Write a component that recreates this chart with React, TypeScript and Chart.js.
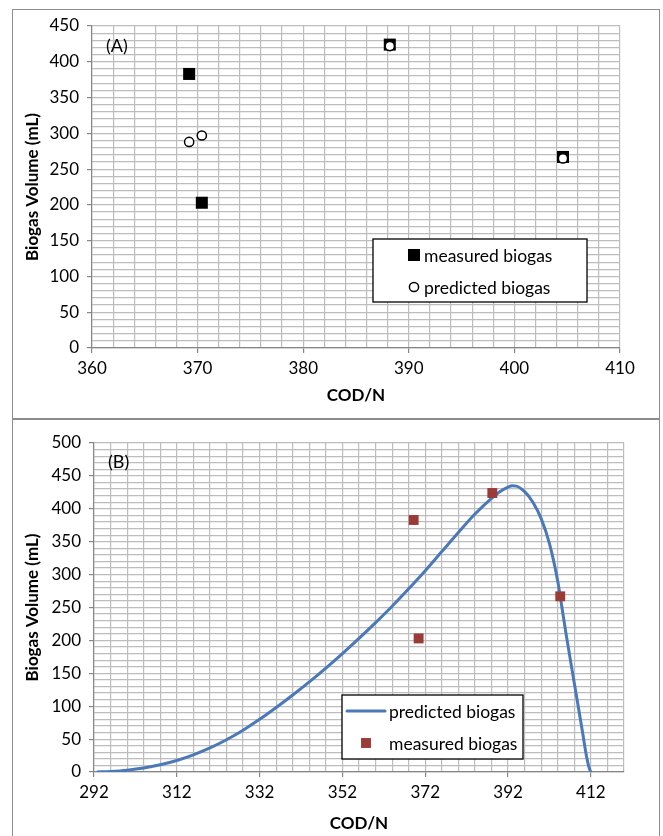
import React, { useEffect, useRef } from 'react';
import { Chart, registerables } from 'chart.js';

Chart.register(...registerables);

// ---------- DATA ----------
const codN = [369.2, 370.4, 388.2, 404.6];
const measuredBiogas = [383, 203, 424, 267];
const predictedBiogas = [288, 297, 422, 265];

const curveCodN = [292.7, 296, 300, 304, 308, 312, 316, 320, 324, 328, 332, 336, 340, 344, 348, 352, 356, 360, 364, 368, 372, 376, 380, 384, 388, 390, 392, 393, 394, 396, 398, 400, 402, 404, 404.6, 406, 408, 410, 411, 411.6, 412];
const curveBiogas = [0, 0.9, 2.8, 6, 11, 17.5, 26, 36.5, 49, 63.5, 80, 98, 117, 137, 158, 180, 203, 227, 252, 278.5, 306, 335, 364, 392, 416, 426, 433, 435, 434.5, 426, 410, 385, 347, 290, 267, 210, 135, 60, 22, 6, 0];

const xTicksA = [360, 370, 380, 390, 400, 410];
const yTicksA = [0, 50, 100, 150, 200, 250, 300, 350, 400, 450];
const xTicksB = [292, 312, 332, 352, 372, 392, 412];
const yTicksB = [0, 50, 100, 150, 200, 250, 300, 350, 400, 450, 500];

const xGridStepA = 2;
const xGridStepB = 4;
const yGridStep = 10;

// ---------- STYLE ----------
const FONT = 'Lato, "Open Sans", sans-serif';
const GRID = '#bdbdbd';
const AXIS = '#868686';
const BLUE = '#4a78b8';
const RED = '#9a3b37';

const boxLegendPlugin = {
  id: 'boxLegend',
  afterDraw(chart: any, _args: any, opts: any) {
    if (!opts || !opts.rows) return;
    const { ctx, chartArea } = chart;
    const x0 = chartArea.left + opts.left;
    const y0 = chartArea.top + opts.top;
    ctx.save();
    ctx.fillStyle = '#ffffff';
    ctx.fillRect(x0, y0, opts.width, opts.height);
    ctx.strokeStyle = '#000000';
    ctx.lineWidth = 1.3;
    ctx.strokeRect(x0, y0, opts.width, opts.height);
    ctx.font = `${opts.fontSize}px ${FONT}`;
    ctx.textBaseline = 'middle';
    ctx.textAlign = 'left';
    opts.rows.forEach((row: any) => {
      const ds = chart.data.datasets.find((d: any) => d.label === row.label);
      if (!ds) return;
      const cy = y0 + row.dy;
      if (ds.showLine) {
        ctx.beginPath();
        ctx.strokeStyle = ds.borderColor;
        ctx.lineWidth = ds.borderWidth;
        ctx.lineCap = 'round';
        ctx.moveTo(x0 + opts.lineX1, cy);
        ctx.lineTo(x0 + opts.lineX2, cy);
        ctx.stroke();
      } else {
        const cx = x0 + opts.symbolX;
        const r = ds.pointRadius;
        if (ds.pointStyle === 'rect') {
          const s = Math.SQRT1_2 * r;
          ctx.fillStyle = ds.pointBackgroundColor;
          ctx.fillRect(cx - s, cy - s, 2 * s, 2 * s);
        } else {
          ctx.beginPath();
          ctx.arc(cx, cy, r, 0, Math.PI * 2);
          ctx.fillStyle = ds.pointBackgroundColor;
          ctx.fill();
          ctx.lineWidth = ds.pointBorderWidth;
          ctx.strokeStyle = ds.pointBorderColor;
          ctx.stroke();
        }
      }
      ctx.fillStyle = '#000000';
      ctx.fillText(ds.label, x0 + opts.textX, cy + 1);
    });
    ctx.restore();
  },
};

const panelLabelPlugin = {
  id: 'panelLabel',
  afterDraw(chart: any, _args: any, opts: any) {
    if (!opts || !opts.text) return;
    const { ctx, chartArea } = chart;
    ctx.save();
    ctx.font = `${opts.fontSize}px ${FONT}`;
    ctx.fillStyle = '#000';
    ctx.textBaseline = 'middle';
    ctx.textAlign = 'left';
    ctx.fillText(opts.text, chartArea.left + opts.dx, chartArea.top + opts.dy);
    ctx.restore();
  },
};

function axis(min: number, max: number, step: number, labels: number[], title: string, isY: boolean, size: number, titlePad: any, tickPad: number) {
  return {
    type: 'linear',
    min,
    max,
    ticks: {
      stepSize: step,
      autoSkip: false,
      maxRotation: 0,
      minRotation: 0,
      padding: tickPad,
      color: '#000',
      font: { family: FONT, size: 17 },
      callback: (v: any) => (labels.includes(Number(v)) ? String(v) : ''),
    },
    grid: {
      color: GRID,
      lineWidth: 1.2,
      tickLength: 5,
      tickWidth: 1.2,
      tickColor: (c: any) => (c.tick && labels.includes(c.tick.value) ? AXIS : 'rgba(0,0,0,0)'),
    },
    border: { display: true, color: AXIS, width: 1.2 },
    title: {
      display: true,
      text: title,
      color: '#000',
      font: { family: FONT, size: 17, weight: 'bold' },
      padding: titlePad,
    },
    afterFit: (s: any) => {
      if (isY) s.width = size;
      else s.height = size;
    },
  };
}

function ChartCanvas({ config, width, height, style }: any) {
  const ref = useRef<HTMLCanvasElement | null>(null);
  useEffect(() => {
    if (!ref.current) return;
    const chart = new Chart(ref.current, config());
    return () => chart.destroy();
  }, []);
  return <canvas ref={ref} width={width} height={height} style={{ position: 'absolute', width, height, ...style }} />;
}

const configA = () => ({
  type: 'scatter',
  data: {
    datasets: [
      {
        label: 'measured biogas',
        data: codN.map((x, i) => ({ x, y: measuredBiogas[i] })),
        pointStyle: 'rect',
        pointRadius: 8.5,
        pointBackgroundColor: '#000000',
        pointBorderColor: '#000000',
        pointBorderWidth: 0,
        showLine: false,
        order: 1,
      },
      {
        label: 'predicted biogas',
        data: codN.map((x, i) => ({ x, y: predictedBiogas[i] })),
        pointStyle: 'circle',
        pointRadius: 4.6,
        pointBackgroundColor: '#ffffff',
        pointBorderColor: '#000000',
        pointBorderWidth: 1.5,
        showLine: false,
        order: 0,
      },
    ],
  },
  options: {
    responsive: false,
    animation: false,
    layout: { padding: { left: 0, top: 26, right: 43, bottom: 0 } },
    scales: {
      x: axis(360, 410, xGridStepA, xTicksA, 'COD/N', false, 71, { top: 0, bottom: 13 }, 5),
      y: axis(0, 450, yGridStep, yTicksA, 'Biogas Volume (mL)', true, 92, { top: 22, bottom: 0 }, 8),
    },
    plugins: {
      legend: { display: false },
      tooltip: { enabled: false },
      boxLegend: {
        left: 281, top: 213, width: 214, height: 63, fontSize: 17.5,
        symbolX: 41, textX: 51, lineX1: 5, lineX2: 43,
        rows: [{ label: 'measured biogas', dy: 16 }, { label: 'predicted biogas', dy: 48 }],
      },
      panelLabel: { text: '(A)', dx: 14, dy: 20, fontSize: 18 },
    },
  },
  plugins: [boxLegendPlugin, panelLabelPlugin],
});

const configB = () => ({
  type: 'scatter',
  data: {
    datasets: [
      {
        label: 'predicted biogas',
        data: curveCodN.map((x, i) => ({ x, y: curveBiogas[i] })),
        showLine: true,
        borderColor: BLUE,
        borderWidth: 3,
        pointRadius: 0,
        cubicInterpolationMode: 'monotone',
        tension: 0.4,
        fill: false,
        order: 1,
      },
      {
        label: 'measured biogas',
        data: codN.map((x, i) => ({ x, y: measuredBiogas[i] })),
        pointStyle: 'rect',
        pointRadius: 7,
        pointBackgroundColor: RED,
        pointBorderColor: RED,
        pointBorderWidth: 0,
        showLine: false,
        order: 0,
      },
    ],
  },
  options: {
    responsive: false,
    animation: false,
    layout: { padding: { left: 0, top: 23, right: 39, bottom: 0 } },
    scales: {
      x: axis(292, 420, xGridStepB, xTicksB, 'COD/N', false, 64, { top: 0, bottom: 2 }, 5),
      y: axis(0, 500, yGridStep, yTicksB, 'Biogas Volume (mL)', true, 94, { top: 22, bottom: 0 }, 8),
    },
    plugins: {
      legend: { display: false },
      tooltip: { enabled: false },
      boxLegend: {
        left: 248, top: 252, width: 181, height: 64, fontSize: 17.5,
        symbolX: 24, textX: 47, lineX1: 5, lineX2: 43,
        rows: [{ label: 'predicted biogas', dy: 16 }, { label: 'measured biogas', dy: 48 }],
      },
      panelLabel: { text: '(B)', dx: 14, dy: 19, fontSize: 18 },
    },
  },
  plugins: [boxLegendPlugin, panelLabelPlugin],
});

export default function App() {
  return (
    <div style={{ position: 'absolute', left: 0, top: 0, width: 663, height: 836, overflow: 'hidden', background: '#fff' }}>
      <div style={{ position: 'absolute', left: 12, top: 9, width: 648, height: 410, boxSizing: 'border-box', border: '1px solid #8c8c8c' }} />
      <div style={{ position: 'absolute', left: 12, top: 419, width: 648, height: 440, boxSizing: 'border-box', border: '1px solid #8c8c8c' }} />
      <ChartCanvas config={configA} width={663} height={419} style={{ left: 0, top: 0 }} />
      <ChartCanvas config={configB} width={663} height={416} style={{ left: 0, top: 420 }} />
    </div>
  );
}
